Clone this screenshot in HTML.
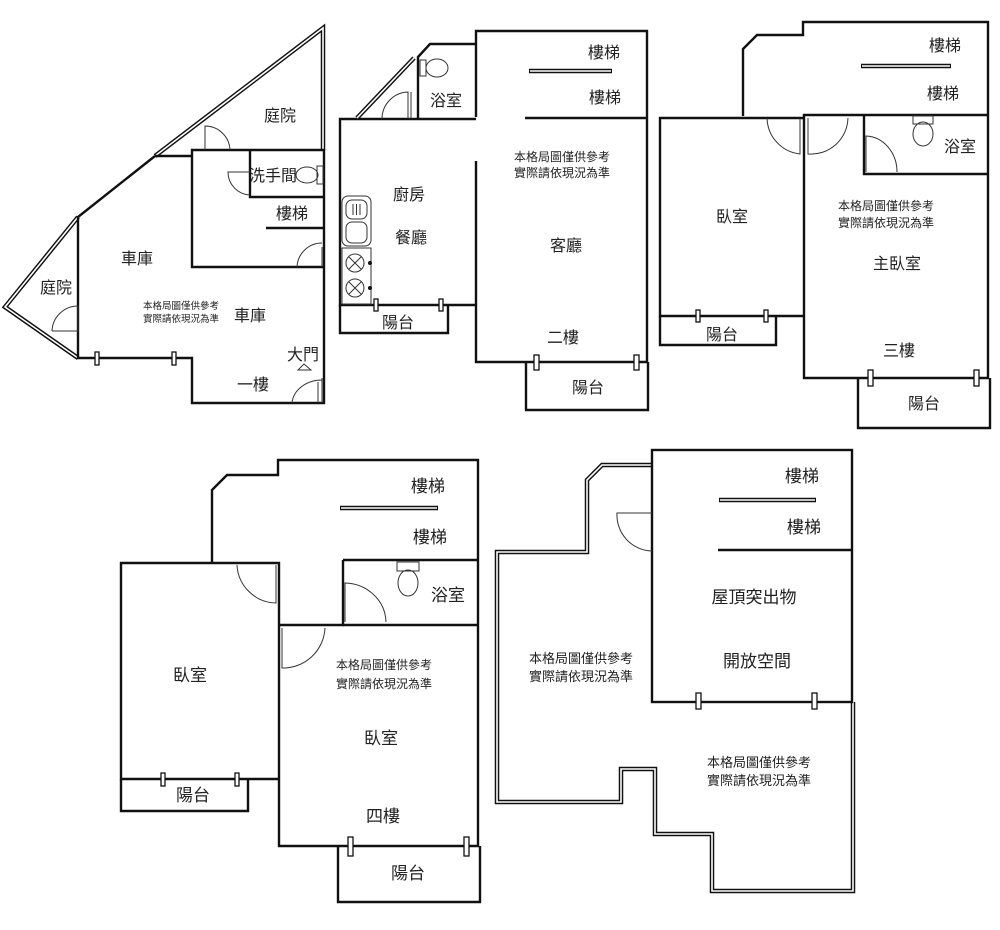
<!DOCTYPE html>
<html><head><meta charset="utf-8"><style>
html,body{margin:0;padding:0;background:#fff;}
svg{display:block;}
text{font-family:"Liberation Sans","Noto Sans CJK TC",sans-serif;fill:#222;text-anchor:middle;}
.l{font-size:16px;}
.b{font-size:17px;}
.n{font-size:12px;}
.w{fill:none;stroke:#111;stroke-width:2.4;stroke-linejoin:miter;}
.dl{fill:none;stroke:#111;stroke-width:4.5;}
.dw{fill:none;stroke:#fff;stroke-width:1.6;}
.t{fill:none;stroke:#333;stroke-width:1;}
.win{fill:#fff;stroke:#111;stroke-width:1.3;}
</style></head><body>
<svg width="1000" height="930" viewBox="0 0 1000 930" xmlns="http://www.w3.org/2000/svg">
<!-- ========== PLAN 1 ========== -->
<g>
<polyline class="dl" points="323,150 323,28 155,156"/>
<polyline class="dw" points="323,150 323,28 155,156"/>
<polyline class="dl" points="78,217 5,307 78,358"/>
<polyline class="dw" points="78,217 5,307 78,358"/>
<polyline class="w" points="155,156 78,217 78,358 192,358 192,403 324,403 324,150 192,150 192,267 324,267"/>
<line class="w" x1="155" y1="156" x2="192" y2="156"/>
<polyline class="w" points="250,150 250,197 324,197"/>
<line class="w" x1="266" y1="228" x2="324" y2="228"/>
<path class="t" d="M205,150 V126 A25,25 0 0 1 230,150"/>
<path class="t" d="M250,172 H228 A23,23 0 0 0 250,195"/>
<path class="t" d="M322,247 V267 M322,243 A25,25 0 0 0 297,267"/>
<path class="t" d="M52,331 H78 V306 A26,26 0 0 0 52,331"/>
<path class="t" d="M322,378 V403 M318,382 V403 M322,380 A30,25 0 0 0 292,403"/>
<path class="t" d="M298,370 L304,364 L311,370 Z"/>
<rect class="t" x="317" y="166" width="6" height="18"/>
<ellipse class="t" cx="307" cy="175" rx="11" ry="8"/>
<rect class="win" x="95" y="352" width="4" height="13"/>
<rect class="win" x="172" y="352" width="4" height="13"/>
<text class="l" x="280" y="121">庭院</text>
<text class="l" x="273" y="181">洗手間</text>
<text class="l" x="292" y="219">樓梯</text>
<text class="l" x="137" y="264">車庫</text>
<text class="l" x="56" y="293">庭院</text>
<text style="font-size:9.5px" x="181" y="309">本格局圖僅供參考</text>
<text style="font-size:9.5px" x="181" y="322">實際請依現況為準</text>
<text class="l" x="250" y="321">車庫</text>
<text class="l" x="303" y="360">大門</text>
<text class="l" x="253" y="390">一樓</text>
</g>
<!-- ========== PLAN 2 ========== -->
<g>
<polyline class="w" points="476,117 476,31 647,31 647,362 476,362 476,161"/>
<line class="dl" x1="529" y1="71" x2="612" y2="71"/><line class="dw" x1="530" y1="71" x2="611" y2="71"/>
<line class="w" x1="525" y1="118" x2="647" y2="118"/>
<polyline class="w" points="476,119 340,119 340,305 476,305"/>
<polyline class="w" points="418,119 418,57 430,44 476,44"/>
<line class="dl" x1="357" y1="118" x2="414" y2="58"/><line class="dw" x1="357" y1="118" x2="414" y2="58"/>
<path class="t" d="M411,119 V92 M408,119 V92 A27,27 0 0 0 382,119"/>
<rect class="t" x="420" y="60" width="6" height="16"/>
<ellipse class="t" cx="437" cy="68" rx="11" ry="9"/>
<polyline class="w" points="340,305 340,333 448,333 448,305"/>
<polyline class="w" points="526,362 526,410 648,410 648,362"/>
<rect class="win" x="374" y="299" width="4" height="12"/>
<rect class="win" x="439" y="299" width="4" height="12"/>
<rect class="win" x="534" y="355" width="5" height="15"/>
<rect class="win" x="634" y="355" width="5" height="15"/>
<rect class="t" x="342" y="196" width="29" height="50" rx="6"/>
<rect class="t" x="346" y="200" width="21" height="19" rx="6"/>
<rect class="t" x="346" y="222" width="21" height="21" rx="6"/>
<path class="t" d="M353,204 V215 M356.5,204 V215 M360,204 V215"/>
<rect class="t" x="342" y="248" width="29" height="56"/>
<circle class="t" cx="355" cy="263" r="9"/><circle class="t" cx="355" cy="288" r="9"/>
<path class="t" d="M349,257 L361,269 M361,257 L349,269 M349,282 L361,294 M361,282 L349,294"/>
<circle cx="370" cy="263" r="2" fill="#111"/><circle cx="370" cy="288" r="2" fill="#111"/>
<text class="l" x="446" y="106">浴室</text>
<text class="l" x="604" y="58">樓梯</text>
<text class="l" x="605" y="103">樓梯</text>
<text class="n" x="562" y="161">本格局圖僅供參考</text>
<text class="n" x="562" y="177">實際請依現況為準</text>
<text class="l" x="409" y="200">廚房</text>
<text class="l" x="411" y="243">餐廳</text>
<text class="l" x="566" y="251">客廳</text>
<text class="l" x="563" y="343">二樓</text>
<text class="l" x="398" y="328">陽台</text>
<text class="l" x="588" y="393">陽台</text>
</g>
<!-- ========== PLAN 3 ========== -->
<g>
<polyline class="w" points="743,116 743,49 757,35 803,35 803,22 988,22 988,378 804,378 804,115 988,115"/>
<polyline class="w" points="804,118 660,118 660,316 804,316"/>
<polyline class="w" points="864,115 864,174 988,174"/>
<line class="dl" x1="861" y1="66" x2="951" y2="66"/><line class="dw" x1="862" y1="66" x2="950" y2="66"/>
<polyline class="w" points="660,316 660,345 776,345 776,316"/>
<polyline class="w" points="858,378 858,428 990,428 990,378"/>
<path class="t" d="M800,118 V154 A37,37 0 0 1 767,118"/>
<path class="t" d="M808,118 V154 A37,37 0 0 0 848,118"/>
<path class="t" d="M866,172 V136 A32,36 0 0 1 897,172"/>
<rect class="t" x="913" y="116" width="20" height="8"/>
<ellipse class="t" cx="923" cy="134" rx="10" ry="12"/>
<rect class="win" x="696" y="310" width="4" height="12"/>
<rect class="win" x="764" y="310" width="4" height="12"/>
<rect class="win" x="868" y="370" width="5" height="16"/>
<rect class="win" x="974" y="370" width="5" height="16"/>
<text class="l" x="945" y="51">樓梯</text>
<text class="l" x="943" y="99">樓梯</text>
<text class="l" x="960" y="152">浴室</text>
<text class="l" x="732" y="222">臥室</text>
<text class="n" x="886" y="210">本格局圖僅供參考</text>
<text class="n" x="886" y="227">實際請依現況為準</text>
<text class="l" x="897" y="269">主臥室</text>
<text class="l" x="899" y="356">三樓</text>
<text class="l" x="722" y="340">陽台</text>
<text class="l" x="924" y="409">陽台</text>
</g>
<!-- ========== PLAN 4 ========== -->
<g>
<polyline class="w" points="212,562 212,490 227,475 278,475 278,460 478,460 478,846 279,846 279,563 121,563 121,779 279,779"/>
<line class="w" x1="343" y1="560" x2="478" y2="560"/>
<polyline class="w" points="343,560 343,625 279,625"/>
<line class="w" x1="343" y1="625" x2="478" y2="625"/>
<line class="dl" x1="340" y1="508" x2="438" y2="508"/><line class="dw" x1="341" y1="508" x2="437" y2="508"/>
<polyline class="w" points="121,779 121,811 248,811 248,779"/>
<polyline class="w" points="338,846 338,902 480,902 480,846"/>
<path class="t" d="M276,565 V603 A40,40 0 0 1 237,565"/>
<path class="t" d="M282,628 V668 A42,42 0 0 0 325,628"/>
<path class="t" d="M345,622 V583 A42,40 0 0 1 386,622"/>
<rect class="t" x="397" y="562" width="22" height="9"/>
<ellipse class="t" cx="408" cy="583" rx="10" ry="13"/>
<rect class="win" x="161" y="773" width="4" height="13"/>
<rect class="win" x="235" y="773" width="4" height="13"/>
<rect class="win" x="348" y="837" width="5" height="19"/>
<rect class="win" x="464" y="837" width="5" height="19"/>
<text class="b" x="428" y="492">樓梯</text>
<text class="b" x="430" y="543">樓梯</text>
<text class="b" x="448" y="601">浴室</text>
<text class="b" x="190" y="681">臥室</text>
<text class="n" x="384" y="669">本格局圖僅供參考</text>
<text class="n" x="384" y="688">實際請依現況為準</text>
<text class="b" x="381" y="744">臥室</text>
<text class="b" x="383" y="822">四樓</text>
<text class="b" x="193" y="801">陽台</text>
<text class="b" x="408" y="879">陽台</text>
</g>
<!-- ========== PLAN 5 ========== -->
<g>
<polyline class="dl" points="652,465 602,465 587,480 587,552 497,552 497,802 621,802 621,769 655,769 655,834 712,834 712,891 853,891 853,702"/>
<polyline class="dw" points="652,465 602,465 587,480 587,552 497,552 497,802 621,802 621,769 655,769 655,834 712,834 712,891 853,891 853,702"/>
<rect class="w" x="652" y="450" width="200" height="252"/>
<line class="dl" x1="719" y1="500" x2="816" y2="500"/><line class="dw" x1="720" y1="500" x2="815" y2="500"/>
<line class="w" x1="718" y1="550" x2="852" y2="550"/>
<path class="t" d="M652,513 H617 A36,36 0 0 0 652,551"/>
<rect class="win" x="696" y="693" width="5" height="16"/>
<rect class="win" x="812" y="693" width="5" height="16"/>
<text class="b" x="802" y="482">樓梯</text>
<text class="b" x="804" y="533">樓梯</text>
<text class="b" x="754" y="603">屋頂突出物</text>
<text class="b" x="757" y="667">開放空間</text>
<text style="font-size:13px" x="581" y="663">本格局圖僅供參考</text>
<text style="font-size:13px" x="581" y="681">實際請依現況為準</text>
<text style="font-size:13px" x="759" y="767">本格局圖僅供參考</text>
<text style="font-size:13px" x="759" y="785">實際請依現況為準</text>
</g>
</svg>
</body></html>
